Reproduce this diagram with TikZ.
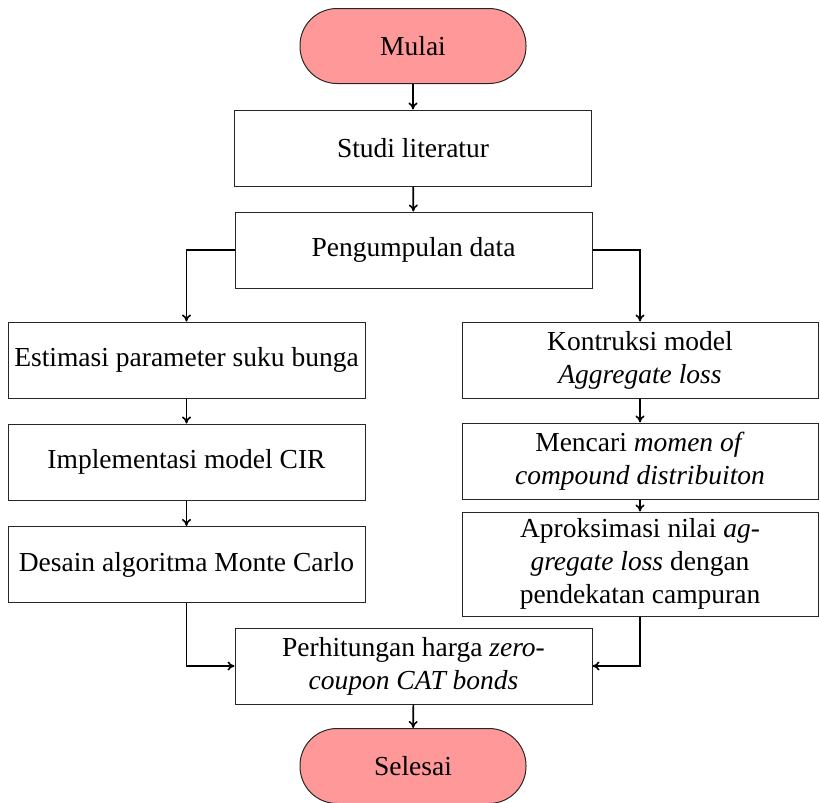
\documentclass[tikz,border=0pt]{standalone}
\usepackage{fontspec}
\setmainfont{Liberation Serif}
\usetikzlibrary{arrows.meta}
\begin{document}
\begin{tikzpicture}[x=1pt,y=-1pt,
  every node/.style={font=\fontsize{27.5}{33}\selectfont},
  procbox/.style={draw=black!85, line width=1pt, rectangle, align=center,
    minimum width=357pt, minimum height=76pt, inner sep=4pt},
  termbox/.style={draw=black!85, line width=1pt, fill=red!40, rectangle,
    rounded corners=37pt, minimum width=226pt, minimum height=75pt},
  flow/.style={-{To[length=7pt,width=9pt]}, line width=1.6pt}
]
\useasboundingbox (0,0) rectangle (820,803);
\node[termbox] (mulai) at (413,46) {Mulai};
\node[procbox] (studi) at (413,148) {Studi literatur};
\node[procbox] (kumpul) at (413.5,250) {Pengumpulan data};
\node[procbox] (estimasi) at (186.5,360) {Estimasi parameter suku bunga};
\node[procbox] (cir) at (186.5,462) {Implementasi model CIR};
\node[procbox] (desain) at (186.5,564.5) {Desain algoritma Monte Carlo};
\node[procbox, minimum width=356pt] (kontruksi) at (640,360) {Kontruksi model\\\textit{Aggregate loss}};
\node[procbox, minimum width=356pt] (mencari) at (640,461) {Mencari \textit{momen of}\\\textit{compound distribuiton}};
\node[procbox, minimum width=356pt, minimum height=104pt] (aproks) at (640,564) {Aproksimasi nilai \textit{ag-}\\\textit{gregate loss} dengan\\pendekatan campuran};
\node[procbox] (hitung) at (413.5,666) {Perhitungan harga \textit{zero-}\\\textit{coupon CAT bonds}};
\node[termbox] (selesai) at (413,766) {Selesai};

\draw[flow] (mulai) -- (studi);
\draw[flow] (studi) -- (kumpul);
\draw[flow] (kumpul.west) -| (estimasi.north);
\draw[flow] (kumpul.east) -| (kontruksi.north);
\draw[flow] (estimasi) -- (cir);
\draw[flow] (cir) -- (desain);
\draw[flow] (kontruksi) -- (mencari);
\draw[flow] (mencari) -- (aproks);
\draw[flow] (desain.south) |- (hitung.west);
\draw[flow] (aproks.south) |- (hitung.east);
\draw[flow] (hitung) -- (selesai);
\end{tikzpicture}
\end{document}
